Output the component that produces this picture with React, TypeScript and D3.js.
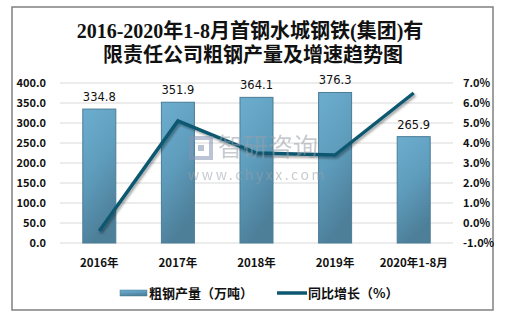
import React from "react";
import * as d3 from "d3";

const categories = ["2016年", "2017年", "2018年", "2019年", "2020年1-8月"];
const output = [334.8, 351.9, 364.1, 376.3, 265.9];
const growth = [-0.4, 5.1, 3.5, 3.4, 6.5];
const leftTicks = [0, 50, 100, 150, 200, 250, 300, 350, 400];
const rightTicks = [-1, 0, 1, 2, 3, 4, 5, 6, 7];
const titleLines = ["2016-2020年1-8月首钢水城钢铁(集团)有", "限责任公司粗钢产量及增速趋势图"];
const legendLabels = ["粗钢产量（万吨）", "同比增长（%）"];

const W = 516, H = 316;
const plot = { left: 60, right: 453, top: 83, bottom: 243 };
const labelFont = "'Microsoft YaHei', 'Noto Sans CJK SC', 'DejaVu Sans', sans-serif";

export default function App() {
  const x = d3.scaleBand<string>().domain(categories).range([plot.left, plot.right]).paddingInner(0.58).paddingOuter(0.29);
  const yL = d3.scaleLinear().domain([0, 400]).range([plot.bottom, plot.top]);
  const yR = d3.scaleLinear().domain([-1, 7]).range([plot.bottom, plot.top]);
  const cx = (c: string) => (x(c) as number) + x.bandwidth() / 2;
  const line = d3.line<number>().x((_, i) => cx(categories[i])).y((d) => yR(d));
  const pathD = line(growth) || "";

  return (
    <svg width={W} height={H} style={{ position: "absolute", left: 0, top: 0, background: "#fff" }}>
      <defs>
        <linearGradient id="barG" x1="0" y1="0" x2="0.3" y2="1">
          <stop offset="0" stopColor="#6cadcd" />
          <stop offset="0.5" stopColor="#5f9dbd" />
          <stop offset="1" stopColor="#4d7f99" />
        </linearGradient>
        <filter id="sh" x="-10%" y="-10%" width="120%" height="130%">
          <feDropShadow dx="1.5" dy="2" stdDeviation="1.2" floodColor="#000" floodOpacity="0.35" />
        </filter>
      </defs>
      <rect x={0} y={0} width={W} height={H} fill="#fff" />
      <rect x={12} y={7} width={481} height={303} fill="none" stroke="#808080" strokeWidth={1.5} />
      <g fontFamily="'Liberation Serif', 'Noto Sans CJK SC', serif" fontWeight={600} fontSize={20} fill="#111" textAnchor="middle">
        <text x={250} y={38}>{titleLines[0]}</text>
        <text x={253} y={62}>{titleLines[1]}</text>
      </g>
      {leftTicks.map((t) => (
        <line key={"g" + t} x1={plot.left} x2={plot.right} y1={yL(t)} y2={yL(t)} stroke="#d9d9d9" strokeWidth={1} />
      ))}
      <g fontFamily={labelFont} fontWeight={700} fontSize={11} fill="#111">
        {leftTicks.map((t) => (
          <text key={"l" + t} x={46} y={yL(t) + 4} textAnchor="end">{t.toFixed(1)}</text>
        ))}
        {rightTicks.map((t) => (
          <text key={"r" + t} x={463} y={yR(t) + 4} textAnchor="start">{t.toFixed(1) + "%"}</text>
        ))}
        {categories.map((c) => (
          <text key={"c" + c} x={cx(c)} y={267} textAnchor="middle" fontSize={11.5}>{c}</text>
        ))}
      </g>
      {categories.map((c, i) => (
        <rect key={"b" + c} x={x(c)} y={yL(output[i])} width={x.bandwidth()} height={plot.bottom - yL(output[i])}
          fill="url(#barG)" stroke="#4a7d97" strokeWidth={1} />
      ))}
      <g fontFamily="'DejaVu Sans', sans-serif" fontSize={11.5} fill="#111" textAnchor="middle">
        {categories.map((c, i) => (
          <text key={"v" + c} x={cx(c)} y={yL(output[i]) - 8}>{output[i].toFixed(1)}</text>
        ))}
      </g>
      <path d={pathD} fill="none" stroke="#0c5870" strokeWidth={3.5} strokeLinejoin="miter" filter="url(#sh)" />
      <g opacity={0.55} fontFamily={labelFont} fill="#9aa0a8">
        <rect x={191} y={138} width={20} height={20} fill="none" stroke="#8494b4" strokeWidth={4} />
        <rect x={198} y={145} width={6} height={6} fill="#8494b4" />
        <text x={218} y={156} fontSize={25} fontWeight={400}>智研咨询</text>
        <text x={188} y={180} fontSize={14} letterSpacing={2.6}>www.chyxx.com</text>
      </g>
      <g fontFamily={labelFont} fontWeight={700} fontSize={13} fill="#111">
        <rect x={120} y={290} width={27} height={6} fill="url(#barG)" stroke="#4a7d97" strokeWidth={0.5} />
        <text x={149} y={298}>{legendLabels[0]}</text>
        <line x1={277} x2={307} y1={293} y2={293} stroke="#0c5870" strokeWidth={3.5} />
        <text x={308} y={298}>{legendLabels[1]}</text>
      </g>
    </svg>
  );
}
